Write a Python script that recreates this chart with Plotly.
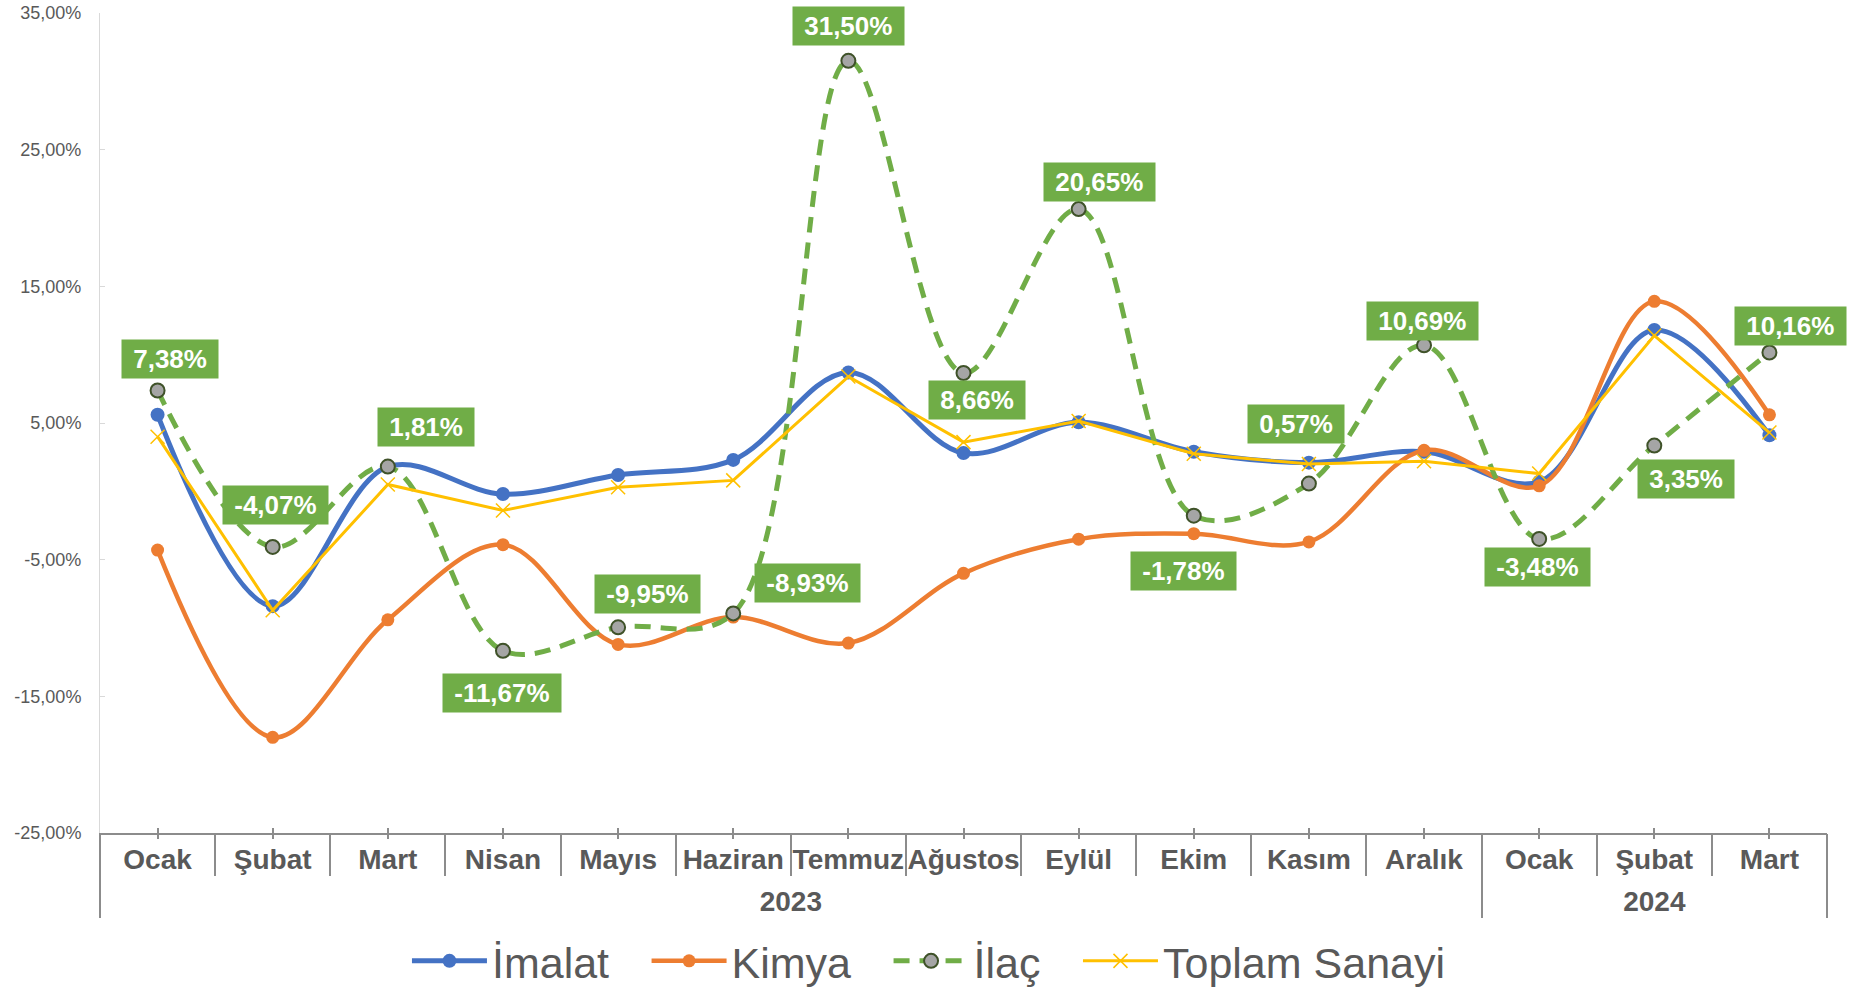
import plotly.graph_objects as go

# values (% change)
years = ["2023"] * 12 + ["2024"] * 3
months = ["Ocak", "Şubat", "Mart", "Nisan", "Mayıs", "Haziran", "Temmuz",
          "Ağustos", "Eylül", "Ekim", "Kasım", "Aralık", "Ocak", "Şubat", "Mart"]

imalat = [5.6, -8.4, 1.8, -0.2, 1.2, 2.3, 8.7, 2.8, 5.05, 2.9, 2.1, 2.9, 0.7, 11.8, 4.1]
kimya = [-4.3, -18.0, -9.4, -3.9, -11.2, -9.2, -11.1, -6.0, -3.5, -3.1, -3.7, 3.0, 0.4, 13.9, 5.6]
ilac = [7.38, -4.07, 1.81, -11.67, -9.95, -8.93, 31.50, 8.66, 20.65, -1.78, 0.57, 10.69, -3.48, 3.35, 10.16]
toplam = [4.0, -8.7, 0.5, -1.4, 0.3, 0.8, 8.4, 3.6, 5.15, 2.75, 2.0, 2.2, 1.3, 11.4, 4.3]

y_ticks = [-25, -15, -5, 5, 15, 25, 35]
y_tick_labels = ["-25,00%", "-15,00%", "-5,00%", "5,00%", "15,00%", "25,00%", "35,00%"]

# label box offsets from each İlaç point (px, right / down)
label_dx = [12, 3, 38, -1, 29, 74, 0, 13, 21, -10, -13, -2, -2, 32, 21]
label_dy = [-31, -42, -40, 42, -33, -30, -35, 27, -27, 55, -60, -24, 28, 33, -26]

FONT = "Liberation Sans, Arial, sans-serif"
GREY_TXT = "#595959"
AX_GREY = "#8C8C8C"
BLUE, ORANGE, GREEN, GOLD = "#4472C4", "#ED7D31", "#70AD47", "#FFC000"

idx = list(range(len(months)))
bounds = [i - 0.5 for i in idx] + [idx[-1] + 0.5]
year_names = sorted(set(years))
year_pos = [sum(i for i in idx if years[i] == yr) / years.count(yr) for yr in year_names]
year_bounds = [bounds[0]] + [i - 0.5 for i in idx[1:] if years[i] != years[i - 1]] + [bounds[-1]]
xr = [bounds[0], bounds[-1]]

pad = "\u00a0\u00a0\u2009"
fig = go.Figure()

fig.add_trace(go.Scatter(
    x=idx, y=imalat, name="İmalat" + pad, mode="lines+markers",
    line=dict(color=BLUE, width=5, shape="spline", smoothing=1),
    marker=dict(symbol="circle", size=14, color=BLUE)
))
fig.add_trace(go.Scatter(
    x=idx, y=kimya, name="Kimya" + pad, mode="lines+markers",
    line=dict(color=ORANGE, width=4.5, shape="spline", smoothing=1),
    marker=dict(symbol="circle", size=13, color=ORANGE)
))
fig.add_trace(go.Scatter(
    x=idx, y=ilac, name="İlaç" + pad, mode="lines+markers",
    line=dict(color=GREEN, width=5, shape="spline", smoothing=1, dash="16px,10px"),
    marker=dict(symbol="circle", size=14, color="#A5A5A5",
                line=dict(color="#3F5229", width=2))
))
fig.add_trace(go.Scatter(
    x=idx, y=toplam, name="Toplam Sanayi", mode="lines+markers",
    line=dict(color=GOLD, width=3),
    marker=dict(symbol="x-thin", size=14, color=GOLD,
                line=dict(color=GOLD, width=1.5))
))

# empty traces so the overlay axes (ticks, separators, years) get drawn
for ax in ["x2", "x3", "x4", "x5", "x6"]:
    fig.add_trace(go.Scatter(x=[None], y=[None], xaxis=ax, yaxis="y",
                             showlegend=False, hoverinfo="skip"))

# green value boxes for İlaç
for i, v in enumerate(ilac):
    txt = f"{v:.2f}".replace(".", ",") + "%"
    fig.add_annotation(
        x=idx[i], y=v, xref="x", yref="y",
        text="\u00a0" + txt + "\u00a0", showarrow=False,
        xshift=label_dx[i], yshift=-label_dy[i],
        xanchor="center", yanchor="middle",
        bgcolor=GREEN, borderpad=4,
        font=dict(family=FONT, size=26, color="white", weight="bold")
    )

overlay = dict(overlaying="x", anchor="y", range=xr, showgrid=False,
               zeroline=False, showline=False, automargin=False)

fig.update_layout(
    width=1854, height=990,
    margin=dict(l=100, r=27, t=13, b=157, autoexpand=False),
    paper_bgcolor="white", plot_bgcolor="white",
    font=dict(family=FONT, color=GREY_TXT),
    showlegend=True,
    legend=dict(orientation="h", x=0.48, xanchor="center", y=-0.156, yanchor="middle",
                font=dict(family=FONT, size=43, color=GREY_TXT),
                itemwidth=75, tracegroupgap=0),
    # month labels + axis line
    xaxis=dict(
        range=xr, tickvals=idx, ticktext=months,
        showline=True, linecolor=AX_GREY, linewidth=2,
        showgrid=False, zeroline=False, automargin=False,
        ticks="", ticklabelstandoff=0,
        tickfont=dict(family=FONT, size=28, color=GREY_TXT, weight="bold"),
    ),
    # small centre ticks crossing the axis
    xaxis2=dict(overlay, tickvals=idx, showticklabels=False,
                ticks="outside", ticklen=5, tickcolor=AX_GREY, tickwidth=1.5),
    xaxis3=dict(overlay, tickvals=idx, showticklabels=False,
                ticks="inside", ticklen=5, tickcolor=AX_GREY, tickwidth=1.5),
    # category separators
    xaxis4=dict(overlay, tickvals=bounds, showticklabels=False,
                ticks="outside", ticklen=42, tickcolor=AX_GREY, tickwidth=1.5),
    # year labels and year separators
    xaxis5=dict(overlay, tickvals=year_bounds, showticklabels=False,
                ticks="outside", ticklen=84, tickcolor=AX_GREY, tickwidth=1.5),
    xaxis6=dict(overlay, tickvals=year_pos, ticktext=year_names, ticks="",
                ticklabelstandoff=49,
                tickfont=dict(family=FONT, size=28, color=GREY_TXT, weight="bold")),
    yaxis=dict(
        range=[-25, 35], tickvals=y_ticks, ticktext=y_tick_labels,
        showline=True, linecolor="#D9D9D9", linewidth=1,
        showgrid=False, zeroline=False, automargin=False,
        ticks="inside", ticklen=5, tickcolor="#D9D9D9",
        ticklabelstandoff=14, ticklabeloverflow="allow",
        tickfont=dict(family=FONT, size=18, color=GREY_TXT),
    ),
)

fig.write_html("out.html", config={"displayModeBar": False},
               post_script="document.body.style.margin='0';")
